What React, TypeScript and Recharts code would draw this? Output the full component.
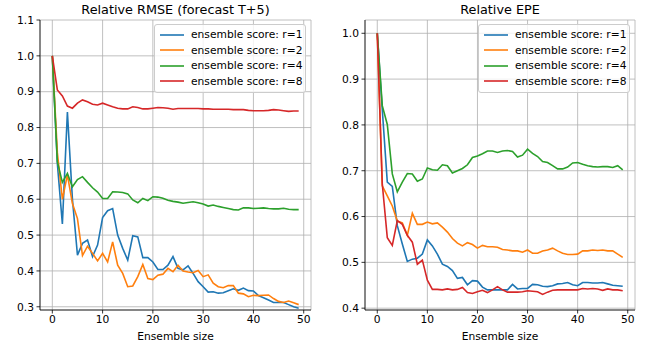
import { LineChart, Line, XAxis, YAxis, CartesianGrid, Legend, Label } from 'recharts';

const ensembleSizes = [
  0, 1, 2, 3, 4, 5, 6, 7, 8, 9, 10, 11, 12, 13, 14, 15, 16, 17, 18, 19, 20, 21, 22, 23, 24,
  25, 26, 27, 28, 29, 30, 31, 32, 33, 34, 35, 36, 37, 38, 39, 40, 41, 42, 43, 44, 45, 46, 47, 48, 49,
];

const seriesNames = ['ensemble score: r=1', 'ensemble score: r=2', 'ensemble score: r=4', 'ensemble score: r=8'];
const COLORS = ['#1f77b4', '#ff7f0e', '#2ca02c', '#d62728'];

// Relative RMSE (forecast T+5)
const rmseR1 = [
  1.0, 0.7, 0.531, 0.843, 0.6, 0.444, 0.477, 0.486, 0.44, 0.472, 0.549, 0.568, 0.574, 0.5, 0.463, 0.43, 0.498,
  0.495, 0.437, 0.437, 0.425, 0.404, 0.404, 0.416, 0.44, 0.407, 0.403, 0.414, 0.393, 0.37, 0.356, 0.341, 0.342,
  0.338, 0.339, 0.345, 0.35, 0.346, 0.352, 0.345, 0.344, 0.331, 0.325, 0.319, 0.312, 0.312, 0.312, 0.306, 0.3, 0.296,
];
const rmseR2 = [
  1.0, 0.73, 0.6, 0.668, 0.588, 0.546, 0.443, 0.469, 0.449, 0.428, 0.449, 0.425, 0.481, 0.416, 0.393, 0.356, 0.358,
  0.384, 0.418, 0.379, 0.376, 0.388, 0.391, 0.407, 0.398, 0.416, 0.4, 0.397, 0.395, 0.401, 0.384, 0.389, 0.366,
  0.356, 0.353, 0.359, 0.359, 0.338, 0.336, 0.328, 0.332, 0.331, 0.332, 0.333, 0.323, 0.315, 0.312, 0.316, 0.311, 0.306,
];
const rmseR4 = [
  1.0, 0.705, 0.647, 0.672, 0.635, 0.655, 0.663, 0.647, 0.632, 0.62, 0.602, 0.602, 0.621, 0.62, 0.619, 0.615, 0.598,
  0.59, 0.602, 0.596, 0.607, 0.606, 0.603, 0.597, 0.594, 0.592, 0.589, 0.591, 0.593, 0.59, 0.587, 0.581, 0.584,
  0.58, 0.577, 0.574, 0.571, 0.57, 0.576, 0.576, 0.574, 0.575, 0.576, 0.574, 0.573, 0.573, 0.575, 0.572, 0.571, 0.571,
];
const rmseR8 = [
  1.0, 0.905, 0.888, 0.86, 0.854, 0.868, 0.877, 0.872, 0.865, 0.863, 0.868, 0.863, 0.858, 0.854, 0.852, 0.852, 0.858,
  0.856, 0.852, 0.852, 0.854, 0.856, 0.855, 0.854, 0.851, 0.853, 0.853, 0.853, 0.853, 0.853, 0.852, 0.852, 0.851,
  0.851, 0.851, 0.851, 0.85, 0.85, 0.85, 0.848, 0.847, 0.847, 0.847, 0.848, 0.85, 0.849, 0.847, 0.845, 0.846, 0.846,
];

// Relative EPE
const epeR1 = [
  1.0, 0.833, 0.675, 0.666, 0.58, 0.54, 0.502, 0.507, 0.509, 0.518, 0.549, 0.536, 0.518, 0.496, 0.491, 0.482, 0.465,
  0.467, 0.451, 0.46, 0.459, 0.446, 0.44, 0.44, 0.44, 0.44, 0.44, 0.452, 0.442, 0.443, 0.443, 0.452, 0.451,
  0.448, 0.447, 0.449, 0.453, 0.454, 0.456, 0.451, 0.449, 0.456, 0.456, 0.455, 0.455, 0.456, 0.453, 0.45, 0.449, 0.448,
];
const epeR2 = [
  1.0, 0.667, 0.645, 0.623, 0.59, 0.586, 0.559, 0.607, 0.583, 0.583, 0.588, 0.584, 0.586, 0.577, 0.566, 0.552, 0.542,
  0.536, 0.543, 0.539, 0.531, 0.537, 0.534, 0.534, 0.533, 0.528, 0.527, 0.525, 0.525, 0.522, 0.527, 0.52, 0.52,
  0.525, 0.527, 0.531, 0.525, 0.52, 0.517, 0.517, 0.518, 0.525, 0.525, 0.527, 0.526, 0.527, 0.525, 0.525, 0.518, 0.511,
];
const epeR4 = [
  1.0, 0.842, 0.801, 0.693, 0.654, 0.675, 0.694, 0.693, 0.677, 0.682, 0.706, 0.702, 0.701, 0.713, 0.711, 0.695, 0.7,
  0.705, 0.713, 0.729, 0.732, 0.737, 0.743, 0.743, 0.74, 0.743, 0.744, 0.742, 0.73, 0.734, 0.747, 0.738, 0.731,
  0.72, 0.718, 0.711, 0.704, 0.704, 0.708, 0.717, 0.718, 0.714, 0.711, 0.709, 0.708, 0.709, 0.709, 0.707, 0.711, 0.702,
];
const epeR8 = [
  1.0, 0.671, 0.554, 0.537, 0.591, 0.583, 0.559, 0.544, 0.496, 0.505, 0.461, 0.441, 0.441, 0.44, 0.442, 0.44, 0.441,
  0.445, 0.434, 0.432, 0.436, 0.439, 0.434, 0.44, 0.447, 0.44, 0.435, 0.435, 0.435, 0.436, 0.438, 0.437, 0.436,
  0.43, 0.435, 0.439, 0.44, 0.44, 0.44, 0.44, 0.44, 0.443, 0.442, 0.443, 0.442, 0.439, 0.442, 0.44, 0.44, 0.438,
];

const rmseTicks = [0.3, 0.4, 0.5, 0.6, 0.7, 0.8, 0.9, 1.0, 1.1];
const epeTicks = [0.4, 0.5, 0.6, 0.7, 0.8, 0.9, 1.0];
const xTicks = [0, 10, 20, 30, 40, 50];

const FONT = '"DejaVu Sans", sans-serif';
const FS = 10.7;

function buildRows(series: number[][]) {
  return ensembleSizes.map((n, i) => ({
    n,
    r1: series[0][i],
    r2: series[1][i],
    r4: series[2][i],
    r8: series[3][i],
  }));
}

function LegendBox({ payload }: any) {
  return (
    <div style={{
      background: 'rgba(255,255,255,0.8)', border: '1px solid #cccccc', borderRadius: 3,
      padding: '2px 0 3px 5px', fontFamily: FONT, fontSize: FS, color: '#000', whiteSpace: 'nowrap',
    }}>
      {(payload || []).map((p: any) => (
        <div key={p.value} style={{ display: 'flex', alignItems: 'center', height: 15.5 }}>
          <svg width={24} height={6} style={{ marginRight: 7, display: 'block' }}>
            <line x1={0} y1={3} x2={24} y2={3} stroke={p.color} strokeWidth={1.6} />
          </svg>
          <span>{p.value}</span>
        </div>
      ))}
    </div>
  );
}

function Panel({ title, rows, domain, ticks, width, marginRight }: {
  title: string; rows: any[]; domain: [number, number]; ticks: number[]; width: number; marginRight: number;
}) {
  const keys = ['r1', 'r2', 'r4', 'r8'];
  const plotW = width - 40 - marginRight;
  return (
    <div style={{ position: 'relative', width, height: 347 }}>
      <div style={{
        position: 'absolute', left: 40, width: plotW, top: 1, height: 17, lineHeight: '17px',
        textAlign: 'center', fontFamily: FONT, fontSize: 12.8, color: '#000',
      }}>{title}</div>
      <LineChart width={width} height={347} data={rows} margin={{ top: 20, right: marginRight, left: 0, bottom: 0 }}>
        <CartesianGrid stroke="#b0b0b0" strokeWidth={0.8} ticks={ticks} />
        <XAxis dataKey="n" type="number" domain={[-2.45, 51.45]} ticks={xTicks} allowDataOverflow
          height={37} tickSize={3.5} tickMargin={2} stroke="#000" strokeWidth={0.8}
          tick={{ fill: '#000', fontSize: FS, fontFamily: FONT }}>
          <Label value="Ensemble size" position="insideBottom" offset={7}
            style={{ fill: '#000', fontSize: FS, fontFamily: FONT }} />
        </XAxis>
        <XAxis xAxisId="top" orientation="top" dataKey="n" type="number" domain={[-2.45, 51.45]}
          height={0} tick={false} tickLine={false} stroke="#000" strokeWidth={0.8} />
        <YAxis type="number" domain={domain} ticks={ticks} allowDataOverflow width={40}
          tickSize={3.5} tickMargin={2.5} stroke="#000" strokeWidth={0.8}
          tickFormatter={(v: number) => v.toFixed(1)}
          tick={{ fill: '#000', fontSize: FS, fontFamily: FONT }} />
        <YAxis yAxisId="right" orientation="right" type="number" domain={domain} allowDataOverflow
          width={0} tick={false} tickLine={false} stroke="#000" strokeWidth={0.8} />
        <Legend layout="vertical" align="center" verticalAlign="middle"
          wrapperStyle={{ left: 40 + plotW - 157, top: 24, width: 152 }}
          content={<LegendBox />} />
        {keys.map((k, i) => (
          <Line key={k} dataKey={k} name={seriesNames[i]} stroke={COLORS[i]} strokeWidth={1.6}
            dot={false} isAnimationActive={false} type="linear" />
        ))}
      </LineChart>
    </div>
  );
}

export default function App() {
  const rmseRows = buildRows([rmseR1, rmseR2, rmseR4, rmseR8]);
  const epeRows = buildRows([epeR1, epeR2, epeR4, epeR8]);
  return (
    <div style={{ position: 'absolute', left: 0, top: 0, width: 651, height: 347, background: '#fff', display: 'flex' }}>
      <Panel title="Relative RMSE (forecast T+5)" rows={rmseRows} domain={[0.291, 1.1]} ticks={rmseTicks}
        width={325} marginRight={14} />
      <Panel title="Relative EPE" rows={epeRows} domain={[0.396, 1.029]} ticks={epeTicks}
        width={326} marginRight={16} />
    </div>
  );
}
